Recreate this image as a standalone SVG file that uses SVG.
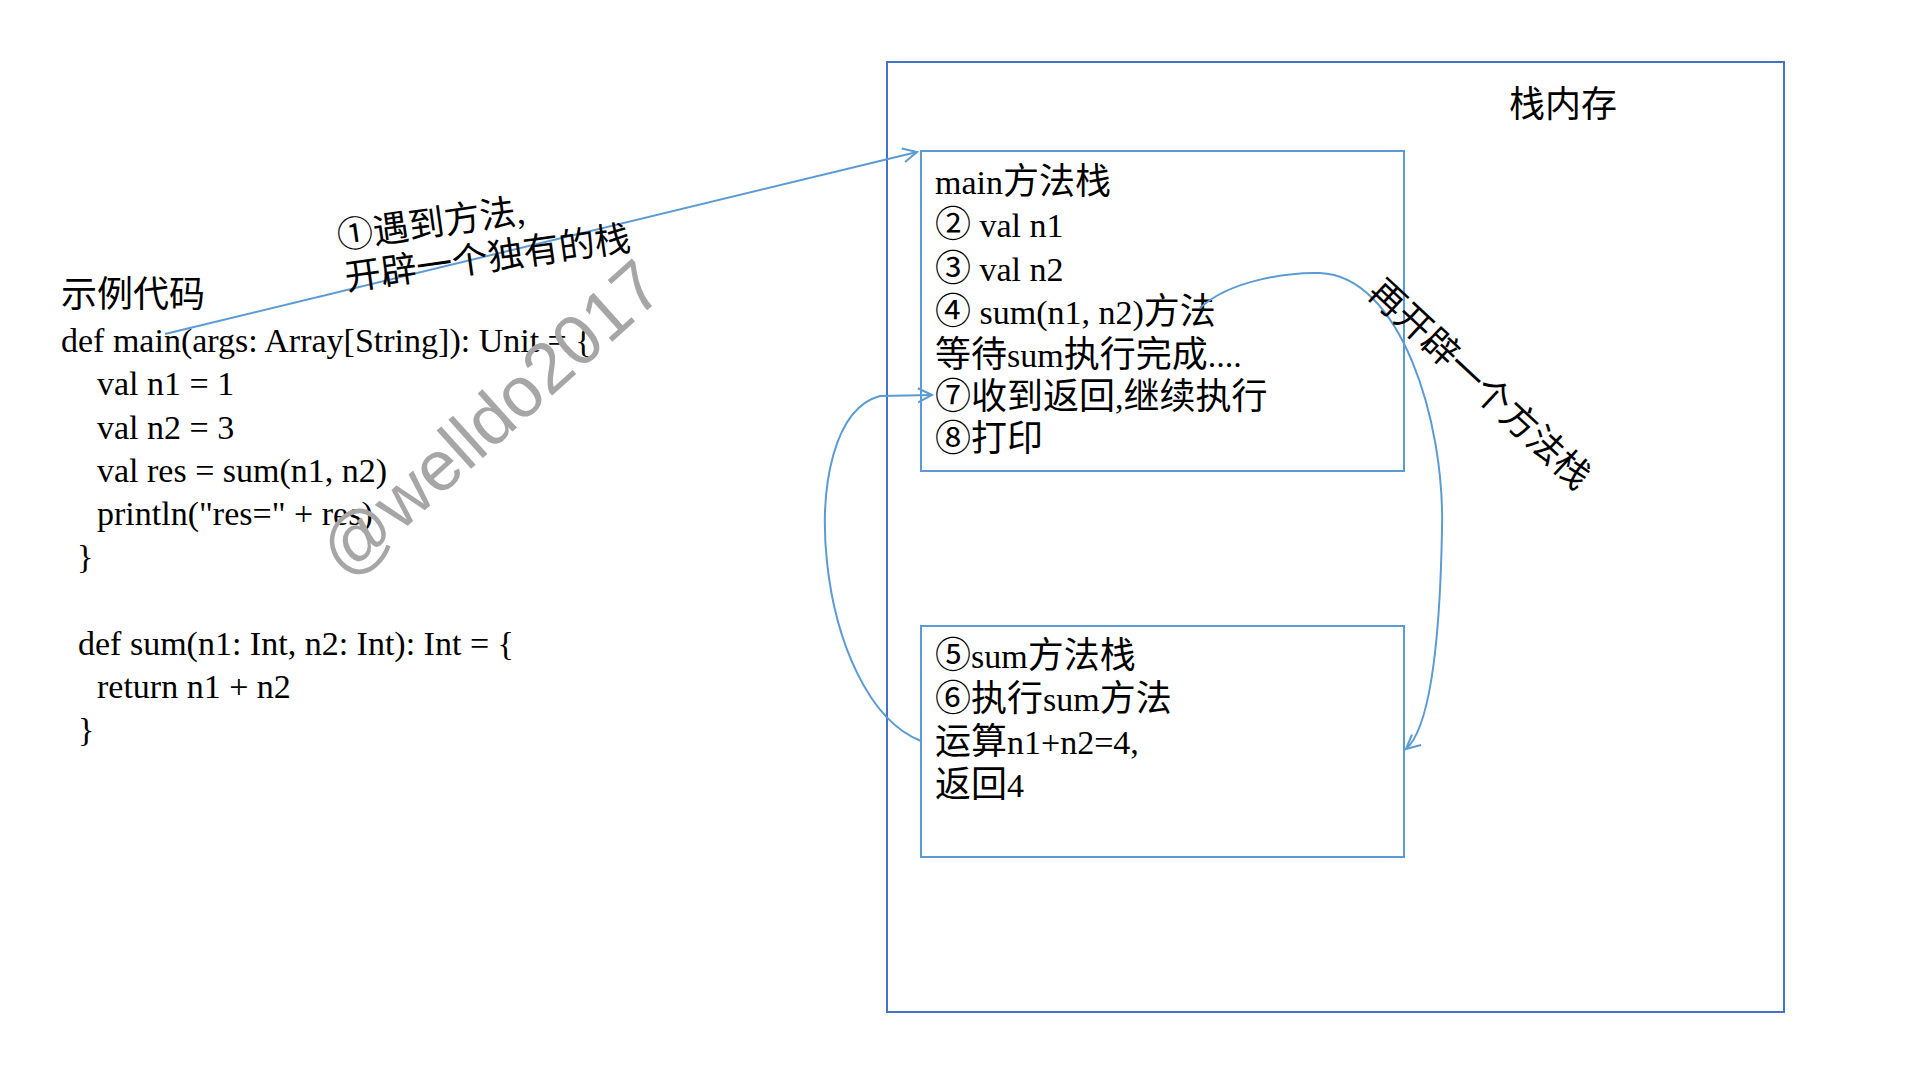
<svg xmlns="http://www.w3.org/2000/svg" width="1920" height="1080" viewBox="0 0 1920 1080">
<style>
.t{font-family:"Liberation Serif","Noto Sans CJK SC",serif;font-size:34px;fill:#000}
.c{font-size:36px}
.lbl{font-family:"Liberation Serif","Noto Sans CJK SC",serif;font-size:36px;fill:#000}
.box{fill:none;stroke:#5B9BD5;stroke-width:2}
.outer{fill:none;stroke:#4472C4;stroke-width:2}
.conn{fill:none;stroke:#5B9BD5;stroke-width:2}
.wm{font-family:"Liberation Sans",Arial,sans-serif;font-size:71px;fill:#A6A6A6}
</style>
<defs>
<marker id="arr" markerUnits="userSpaceOnUse" markerWidth="18" markerHeight="18" viewBox="0 0 18 18" refX="16" refY="9" orient="auto">
<path d="M2,2 L16,9 L2,16" fill="none" stroke="#5B9BD5" stroke-width="2"/>
</marker>
</defs>
<rect width="1920" height="1080" fill="#fff"/>

<g id="stack-memory">
<rect class="outer" x="887" y="62" width="897" height="950"/>
<text class="lbl" x="1509" y="117">栈内存</text>
</g>

<g id="code">
<text class="lbl" x="61" y="307">示例代码</text>
<text class="t" x="61" y="352">def main(args: Array[String]): Unit = {</text>
<text class="t" x="97" y="395">val n1 = 1</text>
<text class="t" x="97" y="439">val n2 = 3</text>
<text class="t" x="97" y="482">val res = sum(n1, n2)</text>
<text class="t" x="97" y="525">println("res=" + res)</text>
<text class="t" x="77" y="568">}</text>
<text class="t" x="78" y="655">def sum(n1: Int, n2: Int): Int = {</text>
<text class="t" x="97" y="698">return n1 + n2</text>
<text class="t" x="78" y="741">}</text>
</g>

<g id="main-stack">
<rect class="box" x="921" y="151" width="483" height="320"/>
<text class="t" x="935" y="194">main<tspan class="c">方法栈</tspan></text>
<text class="t" x="935" y="237"><tspan class="c">②</tspan> val n1</text>
<text class="t" x="935" y="281"><tspan class="c">③</tspan> val n2</text>
<text class="t" x="935" y="324"><tspan class="c">④</tspan> sum(n1, n2)<tspan class="c">方法</tspan></text>
<text class="t" x="935" y="367"><tspan class="c">等待</tspan>sum<tspan class="c">执行完成</tspan>....</text>
<text class="t" x="935" y="409"><tspan class="c">⑦收到返回</tspan>,<tspan class="c">继续执行</tspan></text>
<text class="t" x="935" y="451"><tspan class="c">⑧打印</tspan></text>
</g>

<g id="sum-stack">
<rect class="box" x="921" y="626" width="483" height="231"/>
<text class="t" x="935" y="668"><tspan class="c">⑤</tspan>sum<tspan class="c">方法栈</tspan></text>
<text class="t" x="935" y="711"><tspan class="c">⑥执行</tspan>sum<tspan class="c">方法</tspan></text>
<text class="t" x="935" y="754"><tspan class="c">运算</tspan>n1+n2=4,</text>
<text class="t" x="935" y="797"><tspan class="c">返回</tspan>4</text>
</g>

<g id="connectors">
<path class="conn" d="M165,334 L917,152" marker-end="url(#arr)"/>
<path class="conn" d="M1200,308 C1230,280 1290,272 1320,273 C1400,276 1445,420 1442,530 C1440,640 1430,728 1406,749" marker-end="url(#arr)"/>
<path class="conn" d="M921,741 C815,700 790,420 880,396 L932,395" marker-end="url(#arr)"/>
</g>

<g id="labels">
<g transform="translate(339,249) rotate(-8)">
<text class="lbl" x="0" y="0">①遇到方法,</text>
<text class="lbl" x="2" y="42">开辟一个独有的栈</text>
</g>
<text class="lbl" transform="translate(1366,295) rotate(43)" x="0" y="0">再开辟一个方法栈</text>
</g>

<text class="wm" text-anchor="middle" transform="translate(490,418) rotate(-42)" x="0" y="25">@welldo2017</text>
</svg>
